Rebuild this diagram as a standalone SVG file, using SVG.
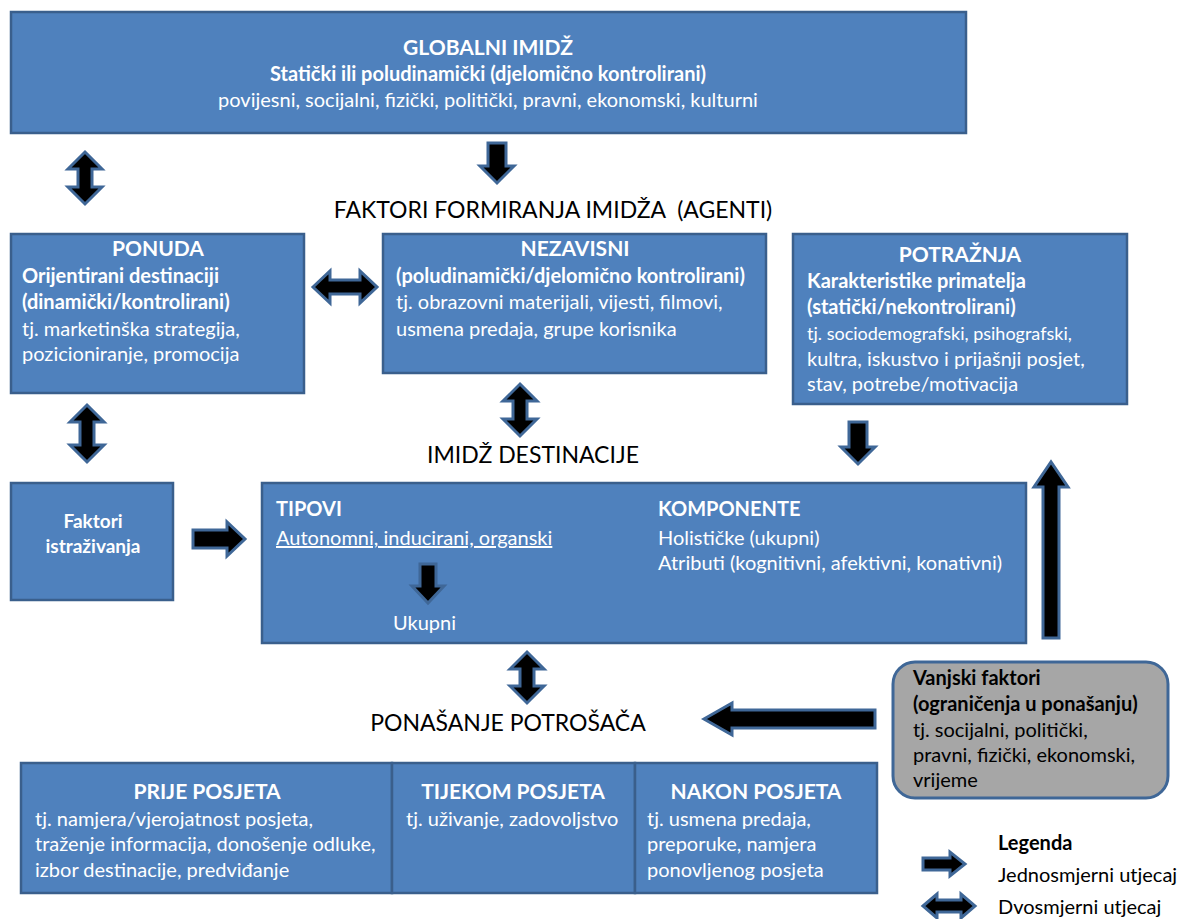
<svg xmlns="http://www.w3.org/2000/svg" width="1179" height="919" viewBox="0 0 1179 919">
  <style>
    .box { fill: #4F81BD; stroke: #3A5F8C; stroke-width: 2.5; }
    .gray { fill: #A6A6A6; stroke: #3F6797; stroke-width: 3; }
    .arr { fill: #000; stroke: #3F6797; stroke-width: 3; stroke-linejoin: miter; }
    text { font-family: Lato, "Open Sans", "Liberation Sans", sans-serif; font-size: 20px; fill: #FFFFFF; }
    .t { font-size: 21px; font-weight: bold; text-anchor: middle; }
    .b { font-weight: bold; }
    .c { text-anchor: middle; }
    .k { fill: #000000; }
    .h { font-size: 23px; fill: #000000; text-anchor: middle; white-space: pre; }
  </style>

  <rect width="1179" height="919" fill="#FFFFFF"/>

  <!-- top: global image -->
  <g id="globalni">
    <rect class="box" x="11" y="12" width="955" height="121"/>
    <text class="t" x="488" y="55">GLOBALNI IMIDŽ</text>
    <text class="b c" x="488" y="81">Statički ili poludinamički (djelomično kontrolirani)</text>
    <text class="c" x="488" y="107">povijesni, socijalni, fizički, politički, pravni, ekonomski, kulturni</text>
  </g>

  <g id="naslov-faktori">
    <text class="h" x="553" y="218">FAKTORI FORMIRANJA IMIDŽA  (AGENTI)</text>
  </g>

  <g id="ponuda">
    <rect class="box" x="11" y="234" width="293" height="159"/>
    <text class="t" x="158" y="256">PONUDA</text>
    <text class="b" x="22" y="283">Orijentirani destinaciji</text>
    <text class="b" x="22" y="309">(dinamički/kontrolirani)</text>
    <text x="22" y="336">tj. marketinška strategija,</text>
    <text x="22" y="361">pozicioniranje, promocija</text>
  </g>

  <g id="nezavisni">
    <rect class="box" x="383" y="234" width="383" height="139"/>
    <text class="t" x="575" y="256">NEZAVISNI</text>
    <text class="b" x="396" y="283">(poludinamički/djelomično kontrolirani)</text>
    <text x="396" y="309">tj. obrazovni materijali, vijesti, filmovi,</text>
    <text x="396" y="336">usmena predaja, grupe korisnika</text>
  </g>

  <g id="potraznja">
    <rect class="box" x="793" y="234" width="334" height="170"/>
    <text class="t" x="960" y="262">POTRAŽNJA</text>
    <text class="b" x="807" y="288">Karakteristike primatelja</text>
    <text class="b" x="807" y="314">(statički/nekontrolirani)</text>
    <text x="807" y="340" style="font-size:18px">tj. sociodemografski, psihografski,</text>
    <text x="807" y="366">kultra, iskustvo i prijašnji posjet,</text>
    <text x="807" y="391">stav, potrebe/motivacija</text>
  </g>

  <g id="naslov-imidz">
    <text class="h" x="533" y="463">IMIDŽ DESTINACIJE</text>
  </g>

  <g id="faktori-istrazivanja">
    <rect class="box" x="11" y="483" width="162" height="117"/>
    <text class="b c" x="93" y="528" style="font-size:19px">Faktori</text>
    <text class="b c" x="93" y="553" style="font-size:19px">istraživanja</text>
  </g>

  <g id="imidz-destinacije">
    <rect class="box" x="262" y="483" width="764" height="160"/>
    <text class="b" x="276" y="516">TIPOVI</text>
    <text x="276" y="545" text-decoration="underline">Autonomni, inducirani, organski</text>
    <text x="393" y="630">Ukupni</text>
    <text class="b" x="658" y="516">KOMPONENTE</text>
    <text x="658" y="545">Holističke (ukupni)</text>
    <text x="658" y="570">Atributi (kognitivni, afektivni, konativni)</text>
  </g>

  <g id="naslov-ponasanje">
    <text class="h" x="508" y="731">PONAŠANJE POTROŠAČA</text>
  </g>

  <g id="vanjski-faktori">
    <rect class="gray" x="893" y="662" width="275" height="136" rx="22"/>
    <text class="b k" x="913" y="685">Vanjski faktori</text>
    <text class="b k" x="913" y="711">(ograničenja u ponašanju)</text>
    <text class="k" x="913" y="737">tj. socijalni, politički,</text>
    <text class="k" x="913" y="762">pravni, fizički, ekonomski,</text>
    <text class="k" x="913" y="787">vrijeme</text>
  </g>

  <g id="prije-posjeta">
    <rect class="box" x="21" y="763" width="371" height="130"/>
    <text class="t" x="207" y="799">PRIJE POSJETA</text>
    <text x="35" y="826">tj. namjera/vjerojatnost posjeta,</text>
    <text x="35" y="851">traženje informacija, donošenje odluke,</text>
    <text x="35" y="877">izbor destinacije, predviđanje</text>
  </g>

  <g id="tijekom-posjeta">
    <rect class="box" x="392" y="763" width="243" height="130"/>
    <text class="t" x="513" y="799">TIJEKOM POSJETA</text>
    <text x="406" y="826">tj. uživanje, zadovoljstvo</text>
  </g>

  <g id="nakon-posjeta">
    <rect class="box" x="635" y="763" width="242" height="130"/>
    <text class="t" x="756" y="799">NAKON POSJETA</text>
    <text x="647" y="826">tj. usmena predaja,</text>
    <text x="647" y="851">preporuke, namjera</text>
    <text x="647" y="877">ponovljenog posjeta</text>
  </g>

  <g id="legenda">
    <text class="b k" x="998" y="850">Legenda</text>
    <text class="k" x="998" y="882">Jednosmjerni utjecaj</text>
    <text class="k" x="998" y="914">Dvosmjerni utjecaj</text>
  </g>

  <!-- block arrows -->
  <g id="connectors">
    <!-- global <-> ponuda -->
    <path class="arr" d="M85,152 L102,169 L92,169 L92,187 L102,187 L85,204 L68,187 L78,187 L78,169 L68,169 Z"/>
    <!-- global -> agents -->
    <path class="arr" d="M488,143 L506,143 L506,166 L514,166 L497,183 L480,166 L488,166 Z"/>
    <!-- ponuda <-> nezavisni -->
    <path class="arr" d="M313,287 L330,271 L330,280 L360,280 L360,271 L377,287 L360,303 L360,294 L330,294 L330,303 Z"/>
    <!-- nezavisni <-> imidž -->
    <path class="arr" d="M520,384 L537,401 L527,401 L527,419 L537,419 L520,436 L503,419 L513,419 L513,401 L503,401 Z"/>
    <!-- ponuda <-> faktori istraživanja -->
    <path class="arr" d="M87,405 L104,422 L94,422 L94,445 L104,445 L87,462 L70,445 L80,445 L80,422 L70,422 Z"/>
    <!-- potražnja -> imidž -->
    <path class="arr" d="M849,422 L867,422 L867,447 L875,447 L858,464 L841,447 L849,447 Z"/>
    <!-- faktori istraživanja -> imidž -->
    <path class="arr" d="M193,530 L227,530 L227,522 L245,539 L227,556 L227,548 L193,548 Z"/>
    <!-- tipovi -> ukupni -->
    <path class="arr" d="M420,564 L436,564 L436,586 L444,586 L428,603 L412,586 L420,586 Z"/>
    <!-- vanjski faktori -> potražnja -->
    <path class="arr" d="M1043,638 L1059,638 L1059,487 L1068,487 L1051,462 L1034,487 L1043,487 Z"/>
    <!-- imidž <-> ponašanje -->
    <path class="arr" d="M527,652 L544,669 L534,669 L534,686 L544,686 L527,703 L510,686 L520,686 L520,669 L510,669 Z"/>
    <!-- vanjski faktori -> ponašanje -->
    <path class="arr" d="M875,710 L732,710 L732,703 L704,719 L732,735 L732,728 L875,728 Z"/>
    <!-- legend: one-way -->
    <path class="arr" d="M923,858 L950,858 L950,852 L965,864 L950,876 L950,870 L923,870 Z"/>
    <!-- legend: two-way -->
    <path class="arr" d="M923,906 L937,894 L937,900 L961,900 L961,894 L975,906 L961,918 L961,912 L937,912 L937,918 Z"/>
  </g>
</svg>
